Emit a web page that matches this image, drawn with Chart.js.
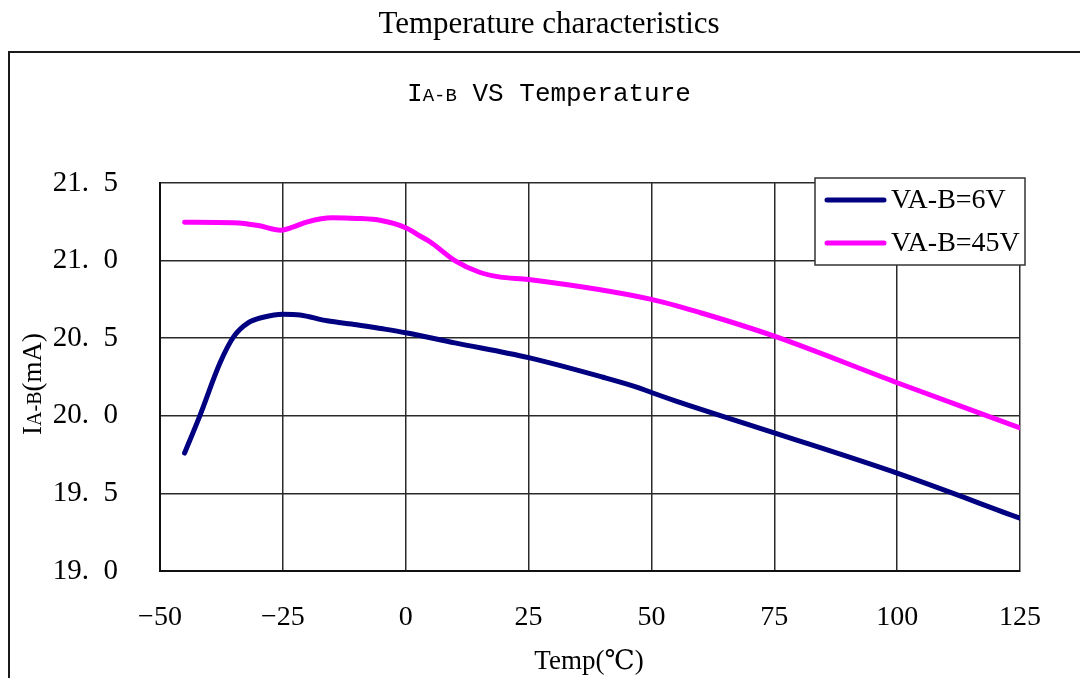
<!DOCTYPE html>
<html>
<head>
<meta charset="utf-8">
<script src="https://cdn.jsdelivr.net/npm/chart.js@4.4.1/dist/chart.umd.min.js"></script>
<style>
  html, body { margin: 0; padding: 0; background: #ffffff; }
  #wrap { width: 1080px; height: 678px; }
</style>
</head>
<body>
<div id="wrap"><canvas id="c" width="1080" height="678"></canvas></div>
<script>
// ---- data ----
const chartTitle = 'Temperature characteristics';
const subTitleMain = 'I';
const subTitleSub = 'A-B';
const subTitleRest = ' VS Temperature';
const xAxisTitle = 'Temp(\u2103)';
const yAxisMain = 'I';
const yAxisSub = 'A-B';
const yAxisRest = '(mA)';

const seriesNames = ['VA-B=6V', 'VA-B=45V'];
const seriesColors = ['#000080', '#ff00ff'];

const temps6 = [-45, -41.9, -37.8, -35, -32, -29, -25, -21.5, -16, -10, -5, 0, 10, 25, 40, 47, 50, 55, 75, 100, 125];
const vals6  = [19.76, 20.0, 20.34, 20.51, 20.60, 20.635, 20.655, 20.65, 20.612, 20.587, 20.562, 20.535, 20.47, 20.375, 20.25, 20.185, 20.15, 20.095, 19.89, 19.63, 19.34];

const temps45 = [-45, -35, -30, -25.5, -23, -20, -15, -10, -5, 0, 3, 5, 10, 15, 19, 25, 50, 60, 75, 100, 125];
const vals45  = [21.247, 21.244, 21.226, 21.196, 21.215, 21.25, 21.276, 21.272, 21.258, 21.212, 21.157, 21.12, 21.0, 20.925, 20.895, 20.878, 20.75, 20.664, 20.513, 20.213, 19.922];

const xTicks = [-50, -25, 0, 25, 50, 75, 100, 125];
const yTicks = [19.0, 19.5, 20.0, 20.5, 21.0, 21.5];

function toPoints(xs, ys) { return xs.map((x, i) => ({ x: x, y: ys[i] })); }

const SERIF = '"Liberation Serif", "DejaVu Serif", serif';
const MONO = '"Liberation Mono", "DejaVu Sans Mono", monospace';

const decorPlugin = {
  id: 'decor',
  beforeDraw(chart) {
    const ctx = chart.ctx;
    ctx.save();
    ctx.fillStyle = '#ffffff';
    ctx.fillRect(0, 0, chart.width, chart.height);
    ctx.restore();
  },
  afterDraw(chart) {
    const ctx = chart.ctx;
    ctx.save();
    // outer frame (top and left edges)
    ctx.strokeStyle = '#1a1a1a';
    ctx.lineWidth = 2;
    ctx.beginPath();
    ctx.moveTo(9, chart.height + 2);
    ctx.lineTo(9, 52);
    ctx.lineTo(chart.width + 2, 52);
    ctx.stroke();

    // main title
    ctx.fillStyle = '#000000';
    ctx.textBaseline = 'middle';
    ctx.textAlign = 'center';
    ctx.font = '31px ' + SERIF;
    ctx.fillText(chartTitle, 549, 25);

    // subtitle with small "A-B"
    const bigF = '26px ' + MONO;
    const smallF = '19px ' + MONO;
    ctx.textAlign = 'left';
    ctx.textBaseline = 'alphabetic';
    ctx.font = bigF; const w1 = ctx.measureText(subTitleMain).width;
    ctx.font = smallF; const w2 = ctx.measureText(subTitleSub).width;
    ctx.font = bigF; const w3 = ctx.measureText(subTitleRest).width;
    let sx = 549 - (w1 + w2 + w3) / 2;
    const sy = 101;
    ctx.font = bigF; ctx.fillText(subTitleMain, sx, sy); sx += w1;
    ctx.font = smallF; ctx.fillText(subTitleSub, sx, sy); sx += w2;
    ctx.font = bigF; ctx.fillText(subTitleRest, sx, sy);

    // y-axis title rotated
    ctx.save();
    ctx.translate(41, 384);
    ctx.rotate(-Math.PI / 2);
    const yb = '27px ' + SERIF;
    const ys = '20px ' + SERIF;
    ctx.font = yb; const a1 = ctx.measureText(yAxisMain).width;
    ctx.font = ys; const a2 = ctx.measureText(yAxisSub).width;
    ctx.font = yb; const a3 = ctx.measureText(yAxisRest).width;
    let ax = -(a1 + a2 + a3) / 2;
    ctx.font = yb; ctx.fillText(yAxisMain, ax, 0); ax += a1;
    ctx.font = ys; ctx.fillText(yAxisSub, ax, 0); ax += a2;
    ctx.font = yb; ctx.fillText(yAxisRest, ax, 0);
    ctx.restore();

    // x-axis title
    ctx.textAlign = 'center';
    ctx.textBaseline = 'middle';
    ctx.font = '27px ' + SERIF;
    ctx.fillText(xAxisTitle, 589, 662);

    // legend box
    const lx = 815, ly = 178, lw = 210, lh = 87;
    ctx.fillStyle = '#ffffff';
    ctx.fillRect(lx, ly, lw, lh);
    ctx.strokeStyle = '#333333';
    ctx.lineWidth = 1.5;
    ctx.strokeRect(lx, ly, lw, lh);
    const rowsY = [200, 243];
    chart.data.datasets.forEach((ds, i) => {
      ctx.strokeStyle = ds.borderColor;
      ctx.lineWidth = 5;
      ctx.lineCap = 'round';
      ctx.beginPath();
      ctx.moveTo(827, rowsY[i]);
      ctx.lineTo(884, rowsY[i]);
      ctx.stroke();
      ctx.fillStyle = '#000000';
      ctx.textAlign = 'left';
      ctx.textBaseline = 'middle';
      ctx.font = '28px ' + SERIF;
      ctx.fillText(ds.label, 891, rowsY[i] + 1);
    });
    ctx.restore();
  }
};

const ctx = document.getElementById('c').getContext('2d');
new Chart(ctx, {
  type: 'line',
  data: {
    datasets: [
      {
        label: seriesNames[0],
        data: toPoints(temps6, vals6),
        borderColor: seriesColors[0],
        borderWidth: 5,
        pointRadius: 0,
        fill: false,
        cubicInterpolationMode: 'monotone',
        borderCapStyle: 'round',
        borderJoinStyle: 'round'
      },
      {
        label: seriesNames[1],
        data: toPoints(temps45, vals45),
        borderColor: seriesColors[1],
        borderWidth: 5,
        pointRadius: 0,
        fill: false,
        cubicInterpolationMode: 'monotone',
        borderCapStyle: 'round',
        borderJoinStyle: 'round'
      }
    ]
  },
  options: {
    responsive: false,
    animation: false,
    devicePixelRatio: 1,
    layout: { padding: { left: 0, top: 183, right: 60, bottom: 0 } },
    plugins: {
      legend: { display: false },
      title: { display: false },
      tooltip: { enabled: false }
    },
    scales: {
      x: {
        type: 'linear',
        min: -50,
        max: 125,
        afterBuildTicks(scale) { scale.ticks = xTicks.map(v => ({ value: v })); },
        afterFit(scale) { scale.height = 107; },
        grid: { color: '#2a2a2a', lineWidth: 1.5, drawTicks: false, tickLength: 0 },
        border: { display: true, color: '#111111', width: 2 },
        ticks: {
          padding: 30,
          color: '#000000',
          font: { family: SERIF, size: 28 },
          callback: (v) => String(v).replace('-', '\u2212')
        }
      },
      y: {
        type: 'linear',
        min: 19.0,
        max: 21.5,
        afterBuildTicks(scale) { scale.ticks = yTicks.map(v => ({ value: v })); },
        afterFit(scale) { scale.width = 160; },
        grid: { color: '#2a2a2a', lineWidth: 1.5, drawTicks: false, tickLength: 0 },
        border: { display: true, color: '#111111', width: 2 },
        ticks: {
          padding: 42,
          color: '#000000',
          font: { family: SERIF, size: 29 },
          callback: (v) => Number(v).toFixed(1).replace('.', '.  ')
        }
      }
    }
  },
  plugins: [decorPlugin]
});
</script>
</body>
</html>
